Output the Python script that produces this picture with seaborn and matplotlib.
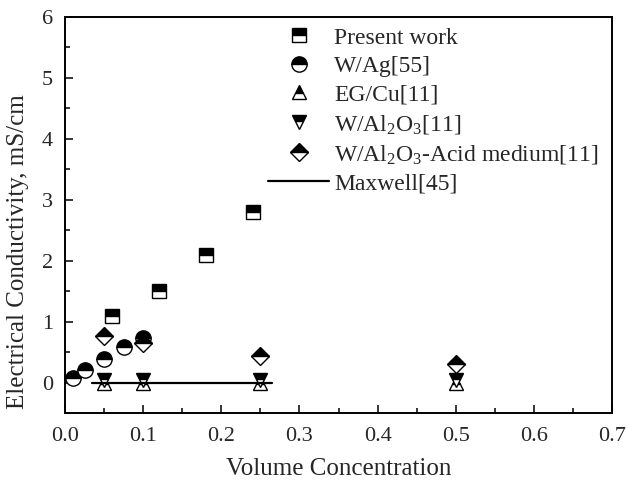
import matplotlib
matplotlib.use("Agg")
import matplotlib.pyplot as plt
import seaborn as sns
import pandas as pd
from matplotlib.ticker import MultipleLocator

# Measured electrical conductivity (mS/cm) vs. volume concentration
present_x = [0.06, 0.12, 0.18, 0.24]
present_y = [1.10, 1.50, 2.10, 2.80]

wag_x = [0.01, 0.025, 0.05, 0.075, 0.10]
wag_y = [0.08, 0.21, 0.39, 0.58, 0.73]

egcu_x = [0.05, 0.10, 0.25, 0.50]
egcu_y = [0.0, 0.0, 0.0, 0.0]

wal_x = [0.05, 0.10, 0.25, 0.50]
wal_y = [0.04, 0.04, 0.04, 0.04]

acid_x = [0.05, 0.10, 0.25, 0.50]
acid_y = [0.77, 0.65, 0.43, 0.30]

maxwell_x = [0.035, 0.05, 0.10, 0.25, 0.265]
maxwell_y = [0.0, 0.0, 0.0, 0.0, 0.0]

labels = ["Present work", "W/Ag[55]", "EG/Cu[11]", "W/Al$_2$O$_3$[11]",
          "W/Al$_2$O$_3$-Acid medium[11]", "Maxwell[45]"]

sns.set_style("ticks")
plt.rcParams["font.family"] = ["Liberation Serif", "DejaVu Serif"]
plt.rcParams["mathtext.fontset"] = "custom"
plt.rcParams["mathtext.rm"] = "Liberation Serif"
plt.rcParams["mathtext.it"] = "Liberation Serif:italic"
plt.rcParams["font.size"] = 17

W, H = 626, 484
fig = plt.figure(figsize=(W / 100, H / 100), dpi=100)
ax = fig.add_axes([65 / W, 1 - 413 / H, (612 - 65) / W, (413 - 17) / H])

marker_series = [
    (present_x, present_y, "s", 10),
    (wag_x, wag_y, "o", 11),
    (egcu_x, egcu_y, "^", 10),
    (wal_x, wal_y, "v", 10),
    (acid_x, acid_y, "D", 9.5),
]

for (xs, ys, mk, ms), lab in zip(marker_series, labels[:5]):
    df = pd.DataFrame({"x": xs, "y": ys})
    sns.lineplot(data=df, x="x", y="y", ax=ax, estimator=None, sort=False,
                 linestyle="none", marker=mk, markersize=ms,
                 fillstyle="top", markerfacecolor="black",
                 markerfacecoloralt="white", markeredgecolor="black",
                 markeredgewidth=1.0, color="black", label=lab)

dfm = pd.DataFrame({"x": maxwell_x, "y": maxwell_y})
sns.lineplot(data=dfm, x="x", y="y", ax=ax, estimator=None, sort=False,
             color="black", linewidth=1.6, label=labels[5])

ax.set_xlim(0.0, 0.7)
ax.set_ylim(-0.5, 6)
ax.xaxis.set_major_locator(MultipleLocator(0.1))
ax.xaxis.set_minor_locator(MultipleLocator(0.05))
ax.yaxis.set_major_locator(MultipleLocator(1))
ax.yaxis.set_minor_locator(MultipleLocator(0.5))
ax.set_yticks([0, 1, 2, 3, 4, 5, 6])
ax.tick_params(which="major", direction="in", length=6, width=1.3,
               labelsize=16)
ax.tick_params(axis="x", which="major", pad=10)
ax.tick_params(axis="y", which="major", pad=8.5)
ax.tick_params(which="minor", direction="in", length=3.5, width=1.3)
ax.tick_params(top=False, right=False, which="both")
for sp in ax.spines.values():
    sp.set_linewidth(1.4)
    sp.set_color("black")

ax.set_xlabel("Volume Concentration", fontsize=18, labelpad=9)
ax.set_ylabel("Electrical Conductivity, mS/cm", fontsize=18)
ax.yaxis.set_label_coords((29 - 65) / (612 - 65), (413 - 252) / (413 - 17))

ax.legend(loc="upper left", bbox_to_anchor=(268 / W, 1 - 27 / H),
          bbox_transform=fig.transFigure, frameon=False, fontsize=17,
          handlelength=2.6, handletextpad=0.2, borderpad=0,
          labelspacing=0.3, borderaxespad=0)

fig.savefig("out.png", dpi=100)
